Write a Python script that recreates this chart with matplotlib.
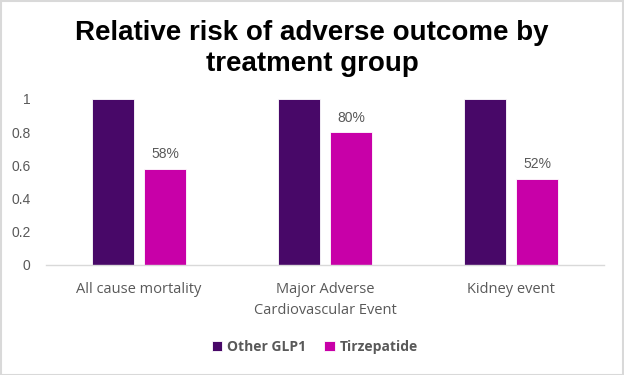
import matplotlib
matplotlib.use("Agg")
import matplotlib.pyplot as plt
import numpy as np
from matplotlib.patches import Rectangle

categories = ["All cause mortality", "Major Adverse\nCardiovascular Event", "Kidney event"]
other_glp1 = [1.0, 1.0, 1.0]
tirzepatide = [0.58, 0.80, 0.52]
tirz_labels = ["58%", "80%", "52%"]
yticks = [0, 0.2, 0.4, 0.6, 0.8, 1]
ytick_labels = ["0", "0.2", "0.4", "0.6", "0.8", "1"]
series_names = ["Other GLP1", "Tirzepatide"]

c_purple = "#480868"
c_magenta = "#C800A8"
gray = "#595959"

fig = plt.figure(figsize=(6.24, 3.75), dpi=100)
W, H = 624, 375
ax = fig.add_axes([46 / W, 1 - 265 / H, (604 - 46) / W, (265 - 99) / H])

x = np.arange(len(categories))
bw = 0.226
off = 0.142
b1 = ax.bar(x - off, other_glp1, bw, color=c_purple, edgecolor="white", linewidth=0.6, label=series_names[0])
b2 = ax.bar(x + off, tirzepatide, bw, color=c_magenta, edgecolor="white", linewidth=0.6, label=series_names[1])
for xi, v, lab in zip(x, tirzepatide, tirz_labels):
    ax.annotate(lab, (xi + off, v), xytext=(0, 5.5), textcoords="offset points",
                ha="center", va="bottom", color=gray, fontsize=10, family="Liberation Sans")

ax.set_xlim(-0.5, 2.5)
ax.set_ylim(0, 1)
ax.set_yticks(yticks)
ax.set_yticklabels(ytick_labels, color=gray, fontsize=10, family="Liberation Sans")
ax.set_xticks(x)
ax.set_xticklabels(categories, color=gray, fontsize=10.5, family="Open Sans", linespacing=1.6)
ax.tick_params(axis="both", length=0)
ax.tick_params(axis="y", pad=11)
ax.tick_params(axis="x", pad=12)
for s in ["top", "right", "left"]:
    ax.spines[s].set_visible(False)
ax.spines["bottom"].set_color("#D9D9D9")
ax.spines["bottom"].set_linewidth(1)

fig.text(0.5, 1 - 48.5 / H, "Relative risk of adverse outcome by\ntreatment group", ha="center", va="center",
         fontsize=20, fontweight="bold", family="Liberation Sans", linespacing=1.27)

leg = fig.legend(handles=[b1, b2], loc="center", bbox_to_anchor=(315 / W, 1 - 347 / H), ncol=2,
                 frameon=False, prop={"family": "Open Sans", "weight": "bold", "size": 10},
                 handlelength=0.75, handleheight=0.75, handletextpad=0.35, columnspacing=1.3)
for t in leg.get_texts():
    t.set_color(gray)

fig.patches.append(Rectangle((0.5 / W, 0.5 / H), 1 - 1.5 / W, 1 - 1.5 / H, transform=fig.transFigure,
                             fill=False, edgecolor="#D9D9D9", linewidth=1.5))
fig.savefig("out.png", dpi=100)
